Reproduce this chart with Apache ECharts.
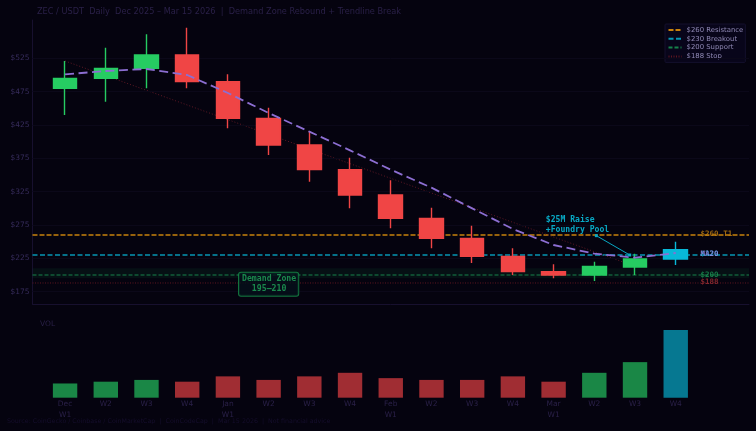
<!DOCTYPE html>
<html>
<head>
<meta charset="utf-8">
<style>
html,body{margin:0;padding:0;background:#05030f;}
#main{width:756px;height:431px;}
</style>
<script src="https://cdn.jsdelivr.net/npm/echarts@6/dist/echarts.min.js"></script>
</head>
<body>
<div id="main"></div>
<script>
var categories = ['Dec\nW1','W2','W3','W4','Jan\nW1','W2','W3','W4','Feb\nW1','W2','W3','W4','Mar\nW1','W2','W3','W4'];
var opens  = [480,495,510,530,490,435,395,358,320,285,255,228,205,200,212,224];
var closes = [495,510,530,490,435,395,358,320,285,255,228,205,200,213,224,238];
var lows   = [440,460,480,480,420,380,340,300,270,240,218,200,195,191,200,215];
var highs  = [521,541,561,571,501,451,416,376,342,301,274,240,216,220,232,250];
var ma20   = [501,506,509,500,473,443,415,387,358,331,300,269,245,232,226,233];
var volumes = [0.8,0.9,1.0,0.9,1.2,1.0,1.2,1.4,1.1,1.0,1.0,1.2,0.9,1.4,2.0,3.8];
var yTicks = [175,225,275,325,375,425,475,525];
var trendIdx = [0,14];
var trendVal = [521,213];

var COLOR_UP = '#26cc62', COLOR_DOWN = '#f04545', COLOR_NOW = '#08b8d8';
var indexes = categories.map(function(c,i){ return i; });
var xMin = -0.8, xMax = 16.8;

var candleData = indexes.map(function(i){
	var item = {value:[i,opens[i],closes[i],lows[i],highs[i]]};
	if(i == 15){
		item.itemStyle = {color:COLOR_NOW,color0:COLOR_NOW,borderColor:COLOR_NOW,borderColor0:COLOR_NOW};
	}
	return item;
});
var volData = indexes.map(function(i){
	var c = closes[i] >= opens[i] ? '#1a8746' : '#a02d33';
	if(i == 15) c = '#067891';
	return {value:[i,volumes[i]],itemStyle:{color:c}};
});

function level(name,val,color,dash,width){
	return {
		name:name,type:'line',xAxisIndex:0,yAxisIndex:0,symbol:'none',silent:true,z:3,
		data:[[xMin,val],[xMax,val]],
		lineStyle:{color:color,type:dash,width:width}
	};
}
function sideLabel(text,val,color){
	return {
		value:[15.61,val],
		label:{show:true,position:'right',distance:0,formatter:text,color:color,
			fontFamily:'DejaVu Sans Mono',fontSize:7.5,fontWeight:'bold'}
	};
}

var myChart = echarts.init(document.getElementById('main'));
var option = {
	backgroundColor:'#05030f',
	animation:false,
	textStyle:{fontFamily:'DejaVu Sans'},
	title:[
		{text:'ZEC / USDT  Daily  Dec 2025 – Mar 15 2026  |  Demand Zone Rebound + Trendline Break',
			left:37,top:8,padding:0,textStyle:{color:'#2a2048',fontSize:8.2,fontWeight:'normal'}},
		{text:'VOL',left:40,top:320,padding:0,textStyle:{color:'#2a2048',fontSize:7.5,fontWeight:'normal'}},
		{text:'Source: CoinGecko / Coinbase / CoinMarketCap  |  CoinCodeCap  |  Mar 15 2026  |  Not financial advice',
			left:7,top:418,padding:0,textStyle:{color:'#150e2c',fontSize:6.3,fontWeight:'normal'}}
	],
	legend:{
		left:665,top:24,orient:'vertical',align:'left',
		data:['$260 Resistance','$230 Breakout','$200 Support','$188 Stop'],
		itemWidth:13,itemHeight:8,itemGap:1.8,padding:[2.5,2,2.5,2.5],
		itemStyle:{opacity:0},
		backgroundColor:'#08051a',borderColor:'#14102c',borderWidth:1,borderRadius:1,
		textStyle:{color:'#8f88b4',fontSize:6.9}
	},
	grid:[
		{left:32.5,right:7,top:20,height:284.33},
		{left:32.5,right:7,top:323,height:74.7}
	],
	xAxis:[
		{type:'value',gridIndex:0,min:xMin,max:xMax,splitLine:{show:false},axisTick:{show:false},axisLabel:{show:false},
			axisLine:{show:true,onZero:false,lineStyle:{color:'#17102e'}}},
		{type:'value',gridIndex:1,min:xMin,max:xMax,splitLine:{show:false},axisTick:{show:false},
			axisLine:{show:false},
			axisLabel:{customValues:indexes,color:'#2a2048',fontSize:7.5,margin:1,lineHeight:11,
				formatter:function(v){ return categories[v]; }}}
	],
	yAxis:[
		{type:'value',gridIndex:0,min:156,max:582.5,splitLine:{show:false},
			axisLine:{show:true,onZero:false,lineStyle:{color:'#17102e'}},
			axisTick:{show:false,customValues:yTicks},
			axisLabel:{customValues:yTicks,color:'#372c5c',fontSize:7.5,margin:3,
				formatter:function(v){ return '$'+v; }}},
		{type:'value',gridIndex:1,min:0,max:4.2,show:false}
	],
	series:[
		{
			name:'gridlines',type:'line',xAxisIndex:0,yAxisIndex:0,data:[],silent:true,z:1,
			markLine:{silent:true,symbol:'none',label:{show:false},
				lineStyle:{color:'#0b0819',type:'solid',width:1},
				data:yTicks.map(function(v){ return {yAxis:v}; })},
			markArea:{silent:true,itemStyle:{color:'rgba(34,197,94,0.07)'},
				data:[[{yAxis:195},{yAxis:210}]]}
		},
		level('$260 Resistance',260,'#c8820c',[5,2],1.5),
		level('$230 Breakout',230,'#0696b4',[5,2.5],1.5),
		level('$200 Support',200,'#16824a',[4,2],1.2),
		level('$188 Stop',188,'#5e1620',[1,1.5],1),
		{
			name:'trend',type:'line',xAxisIndex:0,yAxisIndex:0,symbol:'none',silent:true,z:4,
			data:trendIdx.map(function(x,i){ return [x,trendVal[i]]; }),
			lineStyle:{color:'#5e1824',type:[1,2],width:1}
		},
		{
			name:'price',type:'candlestick',xAxisIndex:0,yAxisIndex:0,z:5,
			encode:{x:0,y:[1,2,3,4]},
			barWidth:24,
			itemStyle:{color:COLOR_UP,color0:COLOR_DOWN,borderColor:COLOR_UP,borderColor0:COLOR_DOWN,borderWidth:1.4},
			data:candleData
		},
		{
			name:'MA20',type:'line',xAxisIndex:0,yAxisIndex:0,symbol:'none',silent:true,z:6,
			data:indexes.map(function(i){ return [i,ma20[i]]; }),
			lineStyle:{color:'#8c6ed2',type:[9,4.5],width:1.8}
		},
		{
			name:'callout',type:'line',xAxisIndex:0,yAxisIndex:0,silent:true,z:7,
			data:[[13.05,259],[13.87,230]],
			symbol:['none','rect'],symbolSize:3,
			lineStyle:{color:'#08a8c4',width:1},
			itemStyle:{color:'#08a8c4'},
			markPoint:{
				silent:true,symbol:'rect',symbolSize:0,
				data:[{coord:[11.81,275.5],
					label:{show:true,position:'right',distance:0,formatter:'$25M Raise\n+Foundry Pool',
						align:'left',color:'#08a8c4',fontFamily:'DejaVu Sans Mono',fontSize:8.1,fontWeight:'bold',lineHeight:10}}]
			}
		},
		{
			name:'zone label',type:'scatter',xAxisIndex:0,yAxisIndex:0,symbolSize:0,silent:true,z:8,
			data:[{
				value:[5,186],
				label:{show:true,position:'inside',formatter:'Demand Zone\n195–210',color:'#1fa85a',
					fontFamily:'DejaVu Sans Mono',fontSize:8.2,fontWeight:'bold',lineHeight:10,align:'center',
					backgroundColor:'#05101a',borderColor:'#159048',borderWidth:1,borderRadius:2,padding:[2,2,1,3]}
			}]
		},
		{
			name:'level labels',type:'scatter',xAxisIndex:0,yAxisIndex:0,symbolSize:0,silent:true,z:8,
			data:[
				sideLabel('$260 T1',261,'#c07e10'),
				sideLabel('$230',231,'#0a93ae'),
				sideLabel('MA20',232,'#9a8cf0'),
				sideLabel('$200',200,'#1a9452'),
				sideLabel('$188',189,'#a03035')
			]
		},
		{
			name:'volume',type:'bar',xAxisIndex:1,yAxisIndex:1,barWidth:24.4,
			data:volData
		}
	]
};
myChart.setOption(option,true);
</script>
</body>
</html>
